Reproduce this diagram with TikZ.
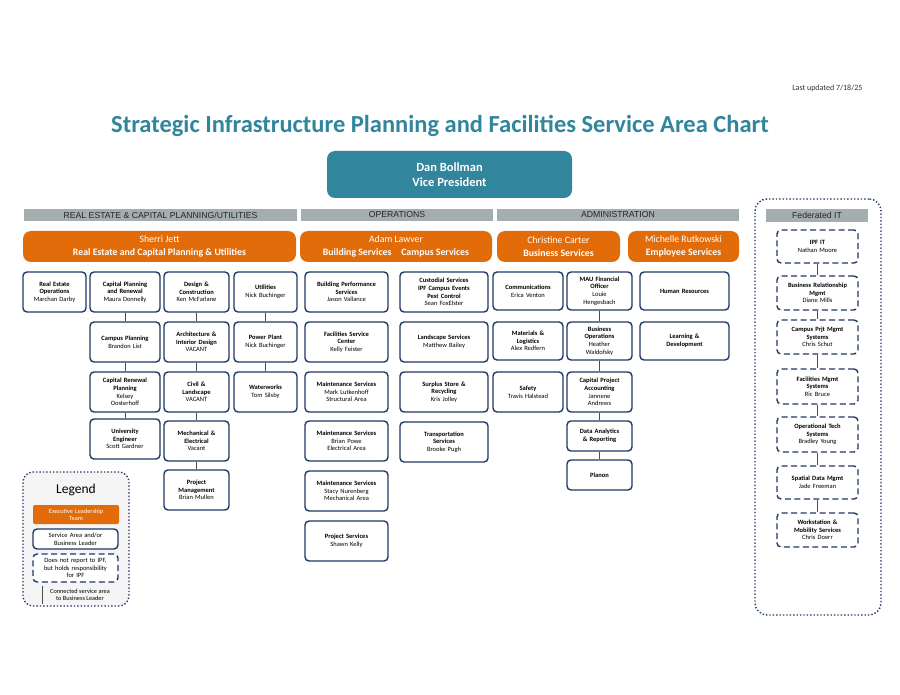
\documentclass[tikz,border=0pt]{standalone}
\usepackage{fontspec}
\setmainfont{Carlito}
\newfontfamily\arialf{Liberation Sans}
\definecolor{navy}{HTML}{1F3864}
\definecolor{teal1}{HTML}{31859C}
\definecolor{orng}{HTML}{E36C0A}
\definecolor{grayb}{HTML}{A5AEAE}
\begin{document}
\begin{tikzpicture}[x=1pt,y=-1pt,
  box/.style={draw=navy,line width=1.4pt,rounded corners=4pt,fill=white,inner sep=0pt,align=center,font=\fontsize{6.5}{7.7}\selectfont},
  dbox/.style={box,dash pattern=on 6pt off 3.5pt},
  obox/.style={fill=orng,rounded corners=8pt,inner sep=0pt,align=center,text=white,font=\fontsize{9.8}{12.5}\selectfont},
  gbar/.style={fill=grayb,inner sep=0pt,font=\arialf\fontsize{8.7}{9}\selectfont,text=black!85},
  conn/.style={draw=black!70,line width=0.6pt}]
\newcommand\bx[7][box]{\node[#1,minimum width=#4-#2,minimum height=#5-#3,text width=#4-#2-3] (#6) at ({(#2+#4)/2},{(#3+#5)/2}) {#7};}
\newcommand\ob[6]{\node[obox,minimum width=#3-#1,minimum height=#4-#2] (#5) at ({(#1+#3)/2},{(#2+#4)/2}) {#6};}
\newcommand\gb[6]{\node[gbar,minimum width=#3-#1,minimum height=#4-#2] (#5) at ({(#1+#3)/2},{(#2+#4)/2}) {#6};}
\useasboundingbox[fill=white] (0,0) rectangle (900,695);
\node[anchor=east,font=\fontsize{8}{10}\selectfont,text=black!80] (upd) at (866,88) {Last updated 7/18/25};
\node[font=\bfseries\fontsize{24.5}{27}\selectfont,text=teal1] (title) at (440,126) {Strategic Infrastructure Planning and Facilities Service Area Chart};
\node[fill=teal1,rounded corners=8pt,minimum width=245,minimum height=47,align=center,text=white,font=\bfseries\fontsize{12.5}{15}\selectfont] (vp) at (449.5,174.5) {Dan Bollman\\Vice President};
\gb{24}{209}{297}{221}{g1}{REAL ESTATE \& CAPITAL PLANNING/UTILITIES}
\gb{301}{209}{493}{221}{g2}{OPERATIONS}
\gb{497}{209}{739}{221}{g3}{ADMINISTRATION}
\ob{23}{231}{296}{262}{o1}{Sherri Jett\\\textbf{Real Estate and Capital Planning \& Utilities}}
\ob{300}{231}{492}{262}{o2}{Adam Lawver\\\textbf{Building Services\quad Campus Services}}
\ob{497}{231}{620}{262}{o3}{Christine Carter\\\textbf{Business Services}}
\ob{628}{231}{739}{262}{o4}{Michelle Rutkowski\\\textbf{Employee Services}}
% RE column
\bx{23}{272}{86}{312}{re}{\textbf{Real Estate\\Operations}\\Marchan Darby}
\bx{90}{272}{160}{312}{cp}{\textbf{Capital Planning\\and Renewal}\\Maura Donnelly}
\bx{90}{322}{160}{362}{cpl}{\textbf{Campus Planning}\\Brandon List}
\bx{90}{372}{160}{412}{crp}{\textbf{Capital Renewal\\Planning}\\Kelsey\\Oosterhoff}
\bx{90}{419}{160}{459}{ue}{\textbf{University\\Engineer}\\Scott Gardner}
\bx{164}{272}{229}{312}{dc}{\textbf{Design \&\\Construction}\\Ken McFarlane}
\bx{164}{322}{229}{362}{aid}{\textbf{Architecture \&\\Interior Design}\\VACANT}
\bx{164}{372}{229}{412}{cl}{\textbf{Civil \&\\Landscape}\\VACANT}
\bx{164}{421}{229}{461}{me}{\textbf{Mechanical \&\\Electrical}\\Vacant}
\bx{164}{470}{229}{510}{pm}{\textbf{Project\\Management}\\Brian Mullen}
\bx{234}{272}{297}{312}{ut}{\textbf{Utilities}\\Nick Buchinger}
\bx{234}{322}{297}{362}{pp}{\textbf{Power Plant}\\Nick Buchinger}
\bx{234}{372}{297}{412}{ww}{\textbf{Waterworks}\\Tom Silsby}
% Operations
\bx{305}{272}{388}{312}{bp}{\textbf{Building Performance\\Services}\\Jason Vallance}
\bx{305}{322}{388}{362}{fsc}{\textbf{Facilities Service\\Center}\\Kelly Feister}
\bx{305}{372}{388}{412}{ms1}{\textbf{Maintenance Services}\\Mark Lutkenhoff\\Structural Area}
\bx{305}{421}{388}{461}{ms2}{\textbf{Maintenance Services}\\Brian Powe\\Electrical Area}
\bx{305}{471}{388}{511}{ms3}{\textbf{Maintenance Services}\\Stacy Nurenberg\\Mechanical Area}
\bx{305}{521}{388}{561}{ps}{\textbf{Project Services}\\Shawn Kelly}
\bx{400}{272}{488}{312}{cs}{\textbf{Custodial Services\\IPF Campus Events\\Pest Control}\\Sean FoxElster}
\bx{400}{322}{488}{362}{ls}{\textbf{Landscape Services}\\Matthew Bailey}
\bx{400}{372}{488}{412}{ss}{\textbf{Surplus Store \&\\Recycling}\\Kris Jolley}
\bx{400}{422}{488}{462}{ts}{\textbf{Transportation\\Services}\\Brooke Pugh}
% Admin
\bx{493}{272}{563}{310}{com}{\textbf{Communications}\\Erica Venton}
\bx{493}{322}{563}{360}{mat}{\textbf{Materials \&\\Logistics}\\Alex Redfern}
\bx{493}{372}{563}{412}{saf}{\textbf{Safety}\\Travis Halstead}
\bx{567}{272}{632}{310}{mau}{\textbf{MAU Financial\\Officer}\\Louie\\Hengesbach}
\bx{567}{322}{632}{360}{bo}{\textbf{Business\\Operations}\\Heather\\Waldofsky}
\bx{567}{372}{632}{412}{cpa}{\textbf{Capital Project\\Accounting}\\Jannene\\Andrews}
\bx{567}{421}{632}{451}{da}{\textbf{Data Analytics\\\& Reporting}}
\bx{567}{460}{632}{490}{pl}{\textbf{Planon}}
\bx{640}{272}{729}{310}{hr}{\textbf{Human Resources}}
\bx{640}{322}{729}{360}{ld}{\textbf{Learning \&\\Development}}
% Federated IT
\node[draw=navy,line width=1.4pt,dotted,rounded corners=12pt,minimum width=126,minimum height=416] (fed) at (818,407) {};
\gb{766}{209}{868}{222}{g4}{Federated IT}
\bx[dbox]{777}{230}{858}{263}{f1}{\textbf{IPF IT}\\Nathan Moore}
\bx[dbox]{777}{276}{858}{310}{f2}{\textbf{Business Relationship\\Mgmt}\\Diane Mills}
\bx[dbox]{777}{320}{858}{354}{f3}{\textbf{Campus Prjt Mgmt\\Systems}\\Chris Schut}
\bx[dbox]{777}{369}{858}{404}{f4}{\textbf{Facilities Mgmt\\Systems}\\Ric Bruce}
\bx[dbox]{777}{417}{858}{452}{f5}{\textbf{Operational Tech\\Systems}\\Bradley Young}
\bx[dbox]{777}{466}{858}{499}{f6}{\textbf{Spatial Data Mgmt}\\Jade Freeman}
\bx[dbox]{777}{513}{858}{547}{f7}{\textbf{Workstation \&\\Mobility Services}\\Chris Doerr}
% connectors
\foreach \a/\b in {cp/cpl,cpl/crp,crp/ue,dc/aid,aid/cl,cl/me,me/pm,ut/pp,pp/ww,mau/bo,bo/cpa,cpa/da,da/pl,f1/f2,f2/f3,f3/f4,f4/f5,f5/f6,f6/f7}
  \draw[conn] (\a.south) -- (\b.north);
% Legend
\node[draw=navy,line width=1.4pt,dotted,fill=black!4,rounded corners=10pt,minimum width=106,minimum height=134] (leg) at (76,539) {};
\node[font=\fontsize{13.5}{15}\selectfont] (legt) at (76,490) {Legend};
\node[fill=orng,rounded corners=2pt,minimum width=86,minimum height=19,inner sep=0pt,text width=80,align=center,text=white,font=\fontsize{6.3}{7}\selectfont] (lo) at (76,514.5) {Executive Leadership\\Team};
\bx{33}{529}{118}{549}{lsa}{Service Area and/or\\Business Leader}
\bx[dbox]{33}{554}{118}{582}{ldb}{Does not report to IPF,\\but holds responsibility\\for IPF}
\coordinate (c1) at (42,586);
\coordinate (c2) at (42,604);
\draw[conn] (c1) -- (c2);
\node[font=\fontsize{6.3}{7.3}\selectfont,align=center] (lct) at (80,595) {Connected service area\\to Business Leader};
\end{tikzpicture}
\end{document}
